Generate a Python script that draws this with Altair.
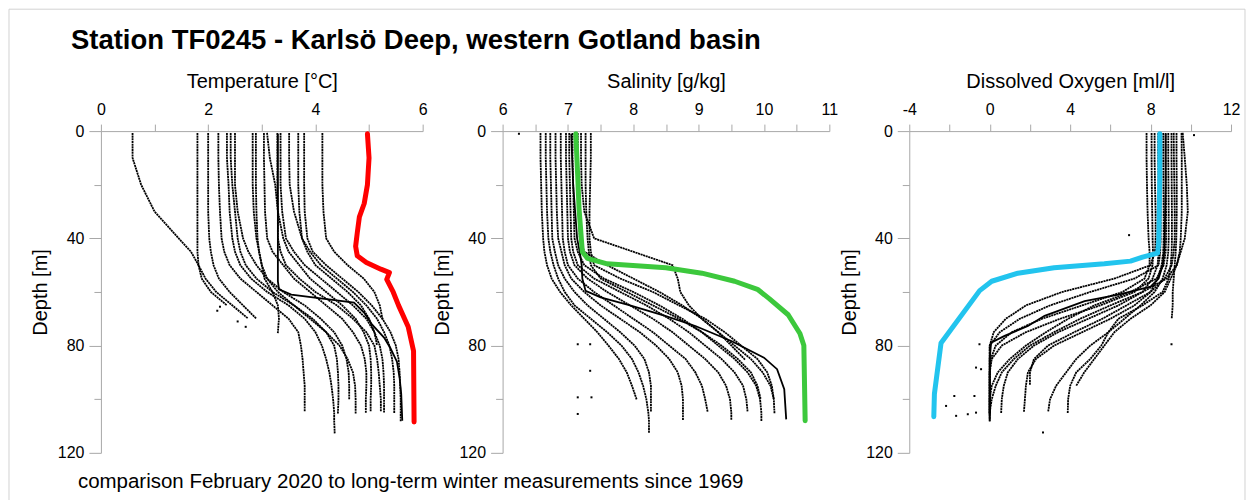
import altair as alt
import pandas as pd

N = None
FONT = "Liberation Sans"
AX_GRAY = "#a8a8a8"

TITLE = "Station TF0245 - Karlsö Deep, western Gotland basin"
CAPTION = "comparison February 2020 to long-term winter measurements since 1969"

DEPTH_TICKS = [0, 20, 40, 60, 80, 100, 120]
TEMP_TICKS = [0, 1, 2, 3, 4, 5, 6]
SAL_TICKS = [6, 6.5, 7, 7.5, 8, 8.5, 9, 9.5, 10, 10.5, 11]
OXY_TICKS = [-4, -2, 0, 2, 4, 6, 8, 10, 12]

# depth levels (m) at which the historical winter profiles are read
GRID_DEPTHS = [1, 10, 20, 30, 40, 45, 50, 55, 60, 65, 70, 75, 80, 85, 90, 95, 100, 105, 108, 113]

# ---------------- temperature [°C] ----------------
TEMP_PROFILES = [
    [0.59, 0.59, 0.75, 1.00, 1.45, 1.68, 1.82, 1.95, 2.15, 2.45, 2.75, N, N, N, N, N, N, N, N, N],
    [1.80, 1.80, 1.80, 1.80, 1.80, 1.80, 1.82, 1.88, 2.05, 2.35, N, N, N, N, N, N, N, N, N, N],
    [2.00, 2.00, 2.00, 2.00, 2.02, 2.05, 2.10, 2.20, 2.40, 2.65, 2.90, N, N, N, N, N, N, N, N, N],
    [2.19, 2.19, 2.20, 2.22, 2.25, 2.30, 2.40, 2.60, 2.90, 3.20, 3.50, 3.68, 3.73, 3.76, 3.78, 3.80, 3.80, 3.80, N, N],
    [2.35, 2.35, 2.38, 2.40, 2.45, 2.50, 2.60, 2.80, 3.10, 3.50, 3.80, 4.00, 4.12, 4.20, 4.26, 4.30, 4.33, 4.35, 4.35, 4.36],
    [2.42, 2.42, 2.45, 2.50, 2.55, 2.60, 2.70, 2.90, 3.20, 3.60, 3.95, 4.20, 4.35, 4.40, 4.42, 4.43, 4.43, 4.42, N, N],
    [2.50, 2.50, 2.50, 2.55, 2.65, 2.75, 2.90, 3.10, 3.40, 3.80, 4.10, 4.35, 4.50, 4.58, 4.62, 4.63, 4.63, N, N, N],
    [2.83, 2.83, 2.83, 2.85, 2.90, 2.95, 3.00, 3.10, 3.30, 3.60, 3.90, 4.20, 4.45, 4.60, 4.70, 4.74, 4.75, 4.75, N, N],
    [2.89, 2.89, 2.89, 2.90, 2.92, 2.95, 3.00, 3.05, 3.20, 3.30, 3.32, 3.30, N, N, N, N, N, N, N, N],
    [3.04, 3.04, 3.05, 3.06, 3.10, 3.20, 3.40, 3.60, 3.90, 4.20, 4.50, 4.70, 4.85, 4.92, 4.95, 4.95, 4.94, 4.94, N, N],
    [3.10, 3.15, 3.25, 3.30, 3.40, 3.50, 3.70, 3.90, 4.20, 4.50, 4.75, 4.90, 5.00, 5.03, 5.04, 5.04, 5.03, 5.03, N, N],
    [3.29, 3.29, 3.29, 3.30, 3.30, 3.35, 3.45, 3.70, 4.00, 4.40, 4.70, 4.95, 5.10, 5.15, 5.18, 5.20, 5.22, 5.22, N, N],
    [3.35, 3.35, 3.35, 3.38, 3.45, 3.60, 3.80, 4.10, 4.40, 4.70, 4.95, 5.10, 5.20, 5.25, 5.27, 5.28, 5.28, 5.28, N, N],
    [3.51, 3.51, 3.52, 3.60, 3.75, 3.90, 4.10, 4.40, 4.70, 4.95, 5.15, 5.28, 5.38, 5.43, 5.46, 5.47, 5.47, 5.47, N, N],
    [3.68, 3.68, 3.68, 3.70, 3.75, 3.85, 4.00, 4.30, 4.60, 4.85, 5.00, 5.10, 5.15, N, N, N, N, N, N, N],
    [3.79, 3.79, 3.79, 3.80, 3.85, 3.95, 4.20, 4.50, 4.80, 5.05, 5.25, 5.40, 5.50, 5.55, 5.57, 5.58, 5.59, 5.59, 5.59, N],
    [4.13, 4.13, 4.13, 4.15, 4.20, 4.35, 4.60, 4.90, 5.10, 5.20, 5.25, N, N, N, N, N, N, N, N, N],
]
TEMP_MEAN_DEPTH = [1, 20, 40, 50, 56, 59, 61, 64, 68, 72, 77, 81, 86, 92, 98, 108]
TEMP_MEAN = [3.30, 3.30, 3.30, 3.30, 3.30, 3.32, 3.55, 4.72, 4.92, 5.05, 5.28, 5.40, 5.52, 5.57, 5.60, 5.62]
TEMP_2020_DEPTH = [1, 10, 20, 27, 32, 38, 43, 46.5, 49, 51.5, 52.8, 55.3, 60, 65, 73, 82, 108.5]
TEMP_2020 = [4.97, 5.00, 4.97, 4.91, 4.82, 4.78, 4.75, 4.78, 4.95, 5.22, 5.38, 5.33, 5.45, 5.55, 5.73, 5.83, 5.84]
TEMP_OUT_DEPTH = [65.5, 67, 71, 73]
TEMP_OUT = [2.22, 2.17, 2.55, 2.70]

# ---------------- salinity [g/kg] ----------------
SAL_PROFILES = [
    [6.58, 6.58, 6.59, 6.60, 6.62, 6.64, 6.68, 6.75, 6.88, 7.05, 7.25, 7.45, 7.62, 7.78, 7.90, 7.98, 8.05, N, N, N],
    [6.66, 6.66, 6.67, 6.68, 6.70, 6.73, 6.78, 6.85, 6.95, 7.10, 7.35, 7.60, 7.82, 7.98, 8.08, 8.15, 8.20, 8.23, 8.24, 8.24],
    [6.73, 6.73, 6.74, 6.75, 6.76, 6.80, 6.85, 6.95, 7.10, 7.30, 7.55, 7.80, 8.02, 8.17, 8.24, 8.27, 8.27, 8.27, N, N],
    [6.81, 6.81, 6.82, 6.83, 6.85, 6.90, 6.95, 7.05, 7.25, 7.50, 7.80, 8.10, 8.35, 8.55, 8.68, 8.74, 8.76, 8.76, 8.76, N],
    [6.89, 6.89, 6.90, 6.91, 6.92, 6.95, 7.00, 7.15, 7.40, 7.70, 8.00, 8.30, 8.55, 8.80, 8.95, 9.05, 9.10, 9.14, N, N],
    [6.97, 6.97, 6.98, 6.99, 7.00, 7.03, 7.10, 7.30, 7.60, 7.95, 8.30, 8.60, 8.85, 9.10, 9.30, 9.42, 9.48, 9.50, 9.50, N],
    [7.02, 7.02, 7.03, 7.04, 7.05, 7.08, 7.15, 7.40, 7.80, 8.20, 8.55, 8.85, 9.10, 9.35, 9.55, 9.68, 9.73, 9.75, N, N],
    [7.07, 7.07, 7.08, 7.09, 7.10, 7.15, 7.25, 7.55, 8.00, 8.40, 8.75, 9.05, 9.30, 9.55, 9.75, 9.88, 9.94, 9.96, 9.96, N],
    [7.15, 7.15, 7.16, 7.17, 7.18, 7.25, 7.60, 8.00, 8.40, 8.75, 9.05, 9.30, 9.55, 9.80, 9.98, 10.10, 10.15, 10.16, N, N],
    [7.20, 7.20, 7.21, 7.25, 7.40, 8.00, 8.60, 8.68, 8.72, 8.85, 9.05, 9.30, 9.50, 9.70, N, N, N, N, N, N],
    [7.27, 7.27, 7.27, 7.28, 7.30, 7.32, 7.35, 7.50, 7.90, 8.30, 8.70, 9.05, 9.35, 9.60, 9.80, 9.90, 9.95, N, N, N],
    [7.35, 7.35, 7.34, 7.33, 7.33, 7.35, 7.40, 7.80, 8.30, 8.70, 9.10, 9.40, 9.65, 9.90, 10.05, 10.12, 10.15, N, N, N],
]
SAL_MEAN_DEPTH = [1, 20, 40, 45, 50, 55, 59.6, 62, 65, 69, 72.7, 78.3, 84.5, 88.8, 96.3, 107.5]
SAL_MEAN = [7.05, 7.08, 7.14, 7.18, 7.21, 7.22, 7.27, 7.50, 7.95, 8.50, 8.95, 9.50, 10.00, 10.20, 10.31, 10.34]
SAL_2020_DEPTH = [1, 17, 29, 45, 47.5, 49.5, 51, 53, 56, 59, 62.5, 68.5, 75.5, 80, 108]
SAL_2020 = [7.12, 7.15, 7.17, 7.22, 7.30, 7.60, 8.50, 9.05, 9.55, 9.90, 10.08, 10.37, 10.55, 10.61, 10.63]
SAL_OUT_DEPTH = [1, 79.5, 99.3, 105.5, 79.5, 89.4, 99.3]
SAL_OUT = [6.25, 7.15, 7.15, 7.15, 7.34, 7.34, 7.36]

# ---------------- dissolved oxygen [ml/l] ----------------
OXY_PROFILES = [
    [7.80, 7.80, 7.82, 7.85, 7.90, 7.95, 7.95, 7.70, 6.60, 4.60, 2.60, 1.10, 0.30, 0.05, 0.00, 0.00, 0.00, 0.00, N, N],
    [8.05, 8.05, 8.06, 8.08, 8.10, 8.12, 8.10, 7.90, 7.20, 5.50, 3.50, 1.80, 0.60, 0.10, 0.00, 0.00, 0.00, 0.00, 0.00, N],
    [8.38, 8.38, 8.40, 8.40, 8.40, 8.40, 8.35, 8.10, 7.60, 6.40, 4.90, 3.40, 2.20, 1.40, 0.90, 0.70, 0.60, 0.57, N, N],
    [8.63, 8.63, 8.64, 8.65, 8.65, 8.63, 8.55, 8.35, 8.00, 7.20, 6.00, 4.60, 3.20, 2.30, 1.90, 1.80, 1.75, 1.70, N, N],
    [8.88, 8.88, 8.89, 8.90, 8.90, 8.88, 8.80, 8.60, 8.20, 7.50, 6.70, 5.90, 5.00, 4.30, 3.80, 3.30, 3.00, 2.90, N, N],
    [9.04, 9.04, 9.05, 9.06, 9.06, 9.05, 9.00, 8.90, 8.60, 7.60, 6.40, 5.90, 5.55, 5.00, 4.30, 4.00, 3.90, 3.88, N, N],
    [9.29, 9.29, 9.30, 9.30, 9.28, 9.25, 9.20, 9.15, 9.10, 9.10, 9.05, N, N, N, N, N, N, N, N, N],
    [9.54, 9.55, 9.55, 9.55, 9.50, 9.45, 9.30, 8.80, 7.60, 6.00, 4.50, 3.20, 2.00, 1.20, 0.60, 0.30, 0.10, 0.00, N, N],
    [9.60, 9.70, 9.80, 9.85, 9.70, 9.50, 9.30, 9.00, 8.70, 8.00, 7.00, 6.20, 5.70, 5.20, 4.70, 4.30, N, N, N, N],
    [8.50, 8.50, 8.50, 8.50, 8.50, 8.48, 8.40, 7.20, 5.00, 3.00, 1.50, 0.50, 0.00, 0.00, 0.00, 0.00, 0.00, 0.00, 0.00, N],
    [8.20, 8.20, 8.22, 8.25, 8.25, 8.22, 8.00, 6.20, 3.60, 1.80, 0.80, 0.20, 0.00, 0.00, 0.00, 0.00, 0.00, 0.00, N, N],
    [8.75, 8.75, 8.76, 8.77, 8.77, 8.75, 8.65, 8.30, 7.00, 5.20, 3.90, 2.80, 1.80, 1.00, 0.40, 0.10, 0.00, 0.00, 0.00, N],
    [9.15, 9.16, 9.18, 9.20, 9.20, 9.15, 9.05, 8.70, 8.00, 6.80, 5.60, 4.20, 2.90, 2.20, 2.00, 2.00, N, N, N, N],
]
OXY_MEAN_DEPTH = [1, 20, 40, 45, 50, 55, 58, 61, 63.4, 68.9, 72.7, 76.4, 78.9, 85, 95, 106]
OXY_MEAN = [8.75, 8.75, 8.70, 8.68, 8.60, 8.40, 8.00, 6.40, 4.72, 2.73, 1.90, 0.74, 0.07, 0.00, 0.00, 0.00]
OXY_2020_DEPTH = [1, 17, 35, 42, 45.5, 47, 48.5, 49.5, 51, 53, 56, 59.5, 79, 98, 106.5]
OXY_2020 = [8.46, 8.46, 8.42, 8.40, 8.35, 7.60, 7.00, 5.70, 3.20, 1.40, 0.10, -0.50, -2.42, -2.75, -2.78]
OXY_OUT_DEPTH = [1.5, 38.8, 79.5, 79.5, 88.2, 88.8, 98.8, 98.8, 102.5, 105.0, 105.6, 106.2, 112.4]
OXY_OUT = [10.16, 6.93, 9.04, -0.51, -0.68, -0.43, -1.76, -0.76, -2.17, -0.68, -1.09, -1.67, 2.65]


def profiles_df(profiles):
    rows = []
    for i, vals in enumerate(profiles):
        for d, v in zip(GRID_DEPTHS, vals):
            if v is not None:
                rows.append({"profile": i, "depth": d, "value": v})
    return pd.DataFrame(rows)


def line_df(depths, values):
    return pd.DataFrame({"depth": depths, "value": values})


def panel(title, domain, ticks, label_test, width, profiles, mean_d, mean_v,
          cur_d, cur_v, color, out_d, out_v):
    x_enc = alt.X(
        "value:Q",
        scale=alt.Scale(domain=domain, nice=False, zero=False),
        axis=alt.Axis(
            orient="top", title=title, values=ticks,
            labelExpr=f"{label_test} ? '' + datum.value : ''",
            tickSize=7, labelPadding=7, titlePadding=10,
            labelFlush=False, labelOverlap=False,
        ),
    )
    y_enc = alt.Y(
        "depth:Q",
        scale=alt.Scale(domain=[0, 120], reverse=True, nice=False, zero=False),
        axis=alt.Axis(
            title="Depth [m]", values=DEPTH_TICKS,
            labelExpr="datum.value % 40 === 0 ? '' + datum.value : ''",
            tickSize={"condition": {"test": "datum.value % 40 === 0", "value": 12}, "value": 7},
            labelPadding=5, titleX=-60, titleBaseline="middle",
            labelFlush=False, labelOverlap=False,
        ),
    )
    dots = alt.Chart(profiles_df(profiles)).mark_line(
        color="black", strokeWidth=1.8, strokeDash=[0.3, 2.4], strokeCap="square"
    ).encode(x=x_enc, y=y_enc, detail="profile:N", order=alt.Order("depth:Q"))
    outl = alt.Chart(line_df(out_d, out_v)).mark_square(
        color="black", size=4, opacity=1
    ).encode(x=x_enc, y=y_enc)
    mean = alt.Chart(line_df(mean_d, mean_v)).mark_line(
        color="black", strokeWidth=1.8
    ).encode(x=x_enc, y=y_enc, order=alt.Order("depth:Q"))
    cur = alt.Chart(line_df(cur_d, cur_v)).mark_line(
        color=color, strokeWidth=5, strokeCap="round", strokeJoin="round"
    ).encode(x=x_enc, y=y_enc, order=alt.Order("depth:Q"))
    return [dots, outl, mean, cur], width


one = pd.DataFrame({"t": [TITLE], "c": [CAPTION]})
BORDER = "#d2d2d2"
title_mark = alt.Chart(one).mark_text(
    align="left", baseline="alphabetic", font=FONT, fontSize=27.5, fontWeight="bold", color="black"
).encode(text="t:N", x=alt.value(-30), y=alt.value(-82))
caption_mark = alt.Chart(one).mark_text(
    align="left", baseline="alphabetic", font=FONT, fontSize=20.5, color="black"
).encode(text="c:N", x=alt.value(-23), y=alt.value(357))
border_left = alt.Chart(one).mark_rule(color=BORDER, strokeWidth=1).encode(
    x=alt.value(-92), y=alt.value(-122), y2=alt.value(370))
border_top = alt.Chart(one).mark_rule(color=BORDER, strokeWidth=1).encode(
    x=alt.value(-92), x2=alt.value(1145), y=alt.value(-122))
border_right = alt.Chart(one).mark_rule(color=BORDER, strokeWidth=1).encode(
    x=alt.value(1145), y=alt.value(-122), y2=alt.value(370))

l1, w1 = panel("Temperature [°C]", [0, 6], TEMP_TICKS, "datum.value % 2 === 0", 322,
               TEMP_PROFILES, TEMP_MEAN_DEPTH, TEMP_MEAN, TEMP_2020_DEPTH, TEMP_2020,
               "#ff0000", TEMP_OUT_DEPTH, TEMP_OUT)
l2, w2 = panel("Salinity [g/kg]", [6, 11], SAL_TICKS, "datum.value % 1 === 0", 327,
               SAL_PROFILES, SAL_MEAN_DEPTH, SAL_MEAN, SAL_2020_DEPTH, SAL_2020,
               "#3cc83c", SAL_OUT_DEPTH, SAL_OUT)
l3, w3 = panel("Dissolved Oxygen [ml/l]", [-4, 12], OXY_TICKS, "datum.value % 4 === 0", 322,
               OXY_PROFILES, OXY_MEAN_DEPTH, OXY_MEAN, OXY_2020_DEPTH, OXY_2020,
               "#22c4ee", OXY_OUT_DEPTH, OXY_OUT)

p1 = alt.layer(border_left, border_top, border_right, *l1, title_mark, caption_mark).properties(width=w1, height=322)
p2 = alt.layer(*l2).properties(width=w2, height=322)
p3 = alt.layer(*l3).properties(width=w3, height=322)

chart = alt.hconcat(p1, p2, p3, spacing=80, bounds="flush").properties(
    padding={"left": 8, "top": 8, "right": 7, "bottom": 0},
    background="white",
).configure_view(strokeWidth=0).configure_axis(
    grid=False,
    domainColor=AX_GRAY, tickColor=AX_GRAY, domainWidth=1, tickWidth=1,
    labelFont=FONT, labelFontSize=16, labelColor="black",
    titleFont=FONT, titleFontSize=20, titleFontWeight="normal", titleColor="black",
)

chart.save("out.html", embed_options={"renderer": "svg", "actions": False})
